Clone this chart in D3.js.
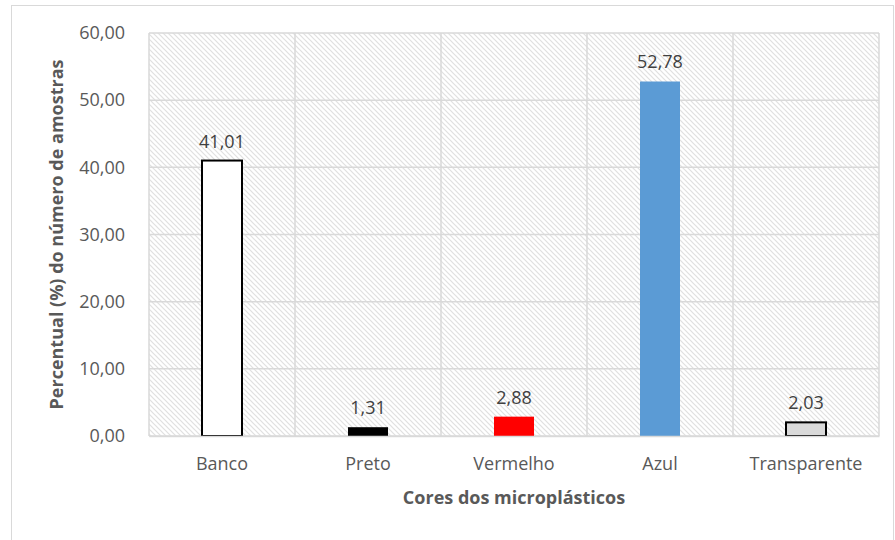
<!DOCTYPE html>
<head>
  <meta charset="utf-8">
  <title>Cores dos microplásticos</title>
  <style>
    body { margin: 0; background: #fff; font-family: "Open Sans", sans-serif; }
  </style>
  <script src="https://cdn.jsdelivr.net/npm/d3@7"></script>
</head>
<body>
  <script>
    // data
    var categories = ["Banco", "Preto", "Vermelho", "Azul", "Transparente"];
    var values = [41.01, 1.31, 2.88, 52.78, 2.03];
    var barColors = ["#ffffff", "#000000", "#ff0000", "#5b9bd5", "#d9d9d9"];
    var barStrokes = ["#000000", "none", "none", "none", "#000000"];
    var yTicks = [0, 10, 20, 30, 40, 50, 60];

    var width = 895, height = 540;
    var margin = {top: 33, right: 16, bottom: 104, left: 149};

    var svg = d3.select("body").append("svg")
      .attr("width", width)
      .attr("height", height);

    // outer chart border
    svg.append("rect")
      .attr("x", 11.5).attr("y", 5.5)
      .attr("width", 882).attr("height", 540)
      .attr("fill", "#fff")
      .attr("stroke", "#d9d9d9");

    // hatch pattern for plot area
    var pat = svg.append("defs").append("pattern")
      .attr("id", "hatch")
      .attr("patternUnits", "userSpaceOnUse")
      .attr("width", 5).attr("height", 5);
    pat.append("rect").attr("width", 5).attr("height", 5).attr("fill", "#fff");
    pat.append("path")
      .attr("d", "M-1,-1 L6,6 M-1,4 L1,6 M4,-1 L6,1")
      .attr("stroke", "#e0e0e0")
      .attr("stroke-width", 1.2);

    var x = d3.scaleBand()
      .domain(categories)
      .range([margin.left, width - margin.right]);

    var y = d3.scaleLinear()
      .domain([0, 60])
      .range([height - margin.bottom, margin.top]);

    // plot area
    svg.append("rect")
      .attr("x", margin.left).attr("y", margin.top)
      .attr("width", x.range()[1] - x.range()[0])
      .attr("height", y(0) - y(60))
      .attr("fill", "url(#hatch)");

    // horizontal gridlines
    svg.append("g")
      .selectAll("line")
      .data(yTicks)
      .enter().append("line")
        .attr("x1", margin.left).attr("x2", x.range()[1])
        .attr("y1", d => y(d)).attr("y2", d => y(d))
        .attr("stroke", "#d9d9d9")
        .attr("stroke-width", 1.5);

    // vertical gridlines at category borders
    var bounds = categories.map(c => x(c)).concat([x.range()[1]]);
    svg.append("g")
      .selectAll("line")
      .data(bounds)
      .enter().append("line")
        .attr("x1", d => d).attr("x2", d => d)
        .attr("y1", y(60)).attr("y2", y(0))
        .attr("stroke", "#d9d9d9")
        .attr("stroke-width", 1.5);

    // bars
    var barW = 40;
    svg.append("g")
      .selectAll("rect")
      .data(values)
      .enter().append("rect")
        .attr("x", (d, i) => x(categories[i]) + x.bandwidth() / 2 - barW / 2)
        .attr("y", d => y(d))
        .attr("width", barW)
        .attr("height", d => y(0) - y(d))
        .attr("fill", (d, i) => barColors[i])
        .attr("stroke", (d, i) => barStrokes[i])
        .attr("stroke-width", 2);

    // value labels
    var fmt = d => d3.format(".2f")(d).replace(".", ",");
    svg.append("g")
      .selectAll("text")
      .data(values)
      .enter().append("text")
        .attr("x", (d, i) => x(categories[i]) + x.bandwidth() / 2)
        .attr("y", d => y(d) - 13)
        .attr("text-anchor", "middle")
        .attr("font-size", "18px")
        .attr("fill", "#404040")
        .text(fmt);

    // y axis
    var yAxis = svg.append("g")
      .attr("transform", "translate(" + (margin.left - 21) + ",0)")
      .call(d3.axisLeft(y).tickValues(yTicks).tickSize(0).tickFormat(fmt));
    yAxis.select(".domain").remove();
    yAxis.selectAll("text")
      .attr("font-family", "Open Sans, sans-serif")
      .attr("font-size", "18px")
      .attr("fill", "#595959");

    // x axis
    var xAxis = svg.append("g")
      .attr("transform", "translate(0," + y(0) + ")")
      .call(d3.axisBottom(x).tickSize(0).tickPadding(21));
    xAxis.select(".domain")
      .attr("stroke", "#d9d9d9")
      .attr("stroke-width", 1.5);
    xAxis.selectAll("text")
      .attr("font-family", "Open Sans, sans-serif")
      .attr("font-size", "18px")
      .attr("fill", "#595959");

    // axis titles
    svg.append("text")
      .attr("x", (x.range()[0] + x.range()[1]) / 2)
      .attr("y", 504)
      .attr("text-anchor", "middle")
      .attr("font-size", "18px")
      .attr("font-weight", "bold")
      .attr("fill", "#595959")
      .text("Cores dos microplásticos");

    svg.append("g")
      .attr("transform", "translate(63," + ((y(0) + y(60)) / 2) + ")")
      .append("text")
        .attr("transform", "rotate(-90)")
        .attr("text-anchor", "middle")
        .attr("font-size", "18px")
        .attr("font-weight", "bold")
        .attr("fill", "#595959")
        .text("Percentual (%) do número de amostras");
  </script>
</body>
